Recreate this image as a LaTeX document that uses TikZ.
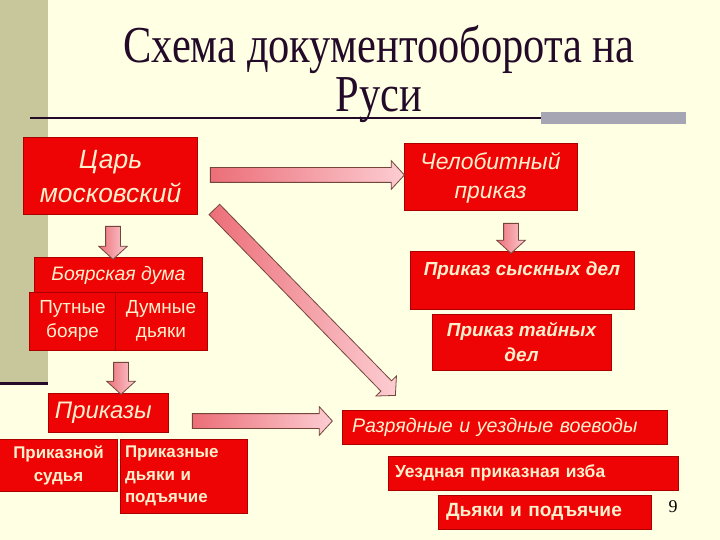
\documentclass[tikz,border=0pt]{standalone}
\usepackage{fontspec}
\setmainfont{Liberation Serif}
\setsansfont{Liberation Sans}
\newfontfamily\titlefont[FakeStretch=0.82]{Liberation Serif}
\usetikzlibrary{shapes.arrows,calc}

\definecolor{bgcream}{RGB}{255,255,228}
\definecolor{sidebar}{RGB}{200,199,155}
\definecolor{titleink}{RGB}{35,10,40}
\definecolor{rulegray}{RGB}{165,165,180}
\definecolor{boxred}{RGB}{238,4,4}
\definecolor{boxedge}{RGB}{170,0,0}
\definecolor{boxtext}{RGB}{255,240,205}
\definecolor{arrdark}{RGB}{236,110,120}
\definecolor{arrlight}{RGB}{252,205,210}
\definecolor{arredge}{RGB}{115,70,60}

\newcommand\fsz[1]{\fontsize{#1}{1.25\dimexpr #1pt\relax}\selectfont}

\tikzset{
  box/.style={draw=boxedge,fill=boxred,text=boxtext,line width=1bp,inner sep=0pt},
  blockarr/.style={single arrow,draw=arredge,line width=.8bp,left color=arrdark,
    right color=arrlight,inner xsep=0pt,inner ysep=7bp,
    single arrow head extend=7bp,single arrow tip angle=95}
}
% block arrow between two named points
\newcommand\bigarrow[3]{%
  \path let \p1=($(#2)-(#1)$) in
    node[blockarr,rotate={atan2(\y1,\x1)},minimum height={veclen(\x1,\y1)}]
      (#3) at ($(#1)!.5!(#2)$) {};}

\begin{document}
\begin{tikzpicture}[x=1bp,y=-1bp]
  \fill[bgcream] (0,0) rectangle (720,540);
  \useasboundingbox (0,0) rectangle (720,540);
  \fill[sidebar] (0,0) rectangle (48,383);
  \draw[titleink,line width=3bp] (0,383)--(48,383);
  \draw[titleink,line width=2bp] (30,118)--(541,118);
  \fill[rulegray] (541,112) rectangle (686,124);
  \node[titleink,align=center,font=\titlefont\fontsize{52}{50}\selectfont]
    (title) at (379,74) {Схема документооборота на\\Руси};

  % left column
  \node[box,minimum width=173bp,minimum height=77bp,align=center,
    font=\sffamily\itshape\fontsize{26.5}{34}\selectfont] (tsar) at (110.5,176.5) {Царь\\московский};
  \node[box,minimum width=167bp,minimum height=34bp,
    font=\sffamily\itshape\fsz{19.5}] (duma) at (118.5,275) {Боярская дума};
  \node[box,minimum width=85bp,minimum height=58bp,align=center,
    font=\sffamily\fontsize{19}{24}\selectfont] (boyare) at (72.5,321) {Путные\\бояре};
  \node[box,minimum width=92bp,minimum height=58bp,align=center,
    font=\sffamily\fontsize{19}{24}\selectfont] (dyaki) at (161,321) {Думные\\дьяки};
  \node[box,minimum height=39bp,text width=106bp,inner xsep=7bp,align=left,
    font=\sffamily\itshape\fsz{24}] (prikazy) at (108,412.5) {Приказы};
  \node[box,minimum width=117bp,minimum height=52bp,align=center,
    font=\sffamily\bfseries\fontsize{17}{23}\selectfont] (sudya) at (58.5,465) {Приказной\\судья};
  \node[box,minimum height=74bp,text width=117bp,inner xsep=5bp,align=left,
    font=\sffamily\bfseries\fontsize{17}{22.5}\selectfont] (podyachie) at (183.5,476)
    {Приказные\\дьяки и\\подъячие};

  % right column
  \node[box,minimum width=173bp,minimum height=67bp,align=center,
    font=\sffamily\itshape\fontsize{23}{29}\selectfont] (chel) at (490.5,177.5) {Челобитный\\приказ};
  \node[box,minimum width=224bp,text height=24bp,text depth=33bp,
    font=\sffamily\bfseries\itshape\fsz{19}] (sysk) at (522,280.5) {Приказ сыскных дел};
  \node[box,minimum width=179bp,minimum height=56bp,align=center,
    font=\sffamily\bfseries\itshape\fontsize{19}{25}\selectfont] (tayn) at (521.5,342)
    {Приказ тайных\\дел};
  \node[box,minimum height=34bp,text width=305bp,inner xsep=10bp,align=left,
    font=\sffamily\itshape\fsz{19.7}] (voevody) at (504.5,427) {Разрядные и уездные воеводы};
  \node[box,minimum height=34bp,text width=276bp,inner xsep=7bp,align=left,
    font=\sffamily\bfseries\fsz{17.5}] (izba) at (533,473) {Уездная приказная изба};
  \node[box,minimum height=34bp,text width=197bp,inner xsep=8bp,align=left,
    font=\sffamily\bfseries\fsz{19.2}] (dyakipod) at (544.5,512) {Дьяки и подъячие};
  \node[font=\fsz{18}] (pagenum) at (673,507) {9};

  % arrows
  \coordinate (a1s) at (207,175);  \coordinate (a1e) at (401,175);
  \coordinate (a2s) at (113,223);  \coordinate (a2e) at (113,256);
  \coordinate (a3s) at (511,220);  \coordinate (a3e) at (511,250);
  \coordinate (a4s) at (212,207);  \coordinate (a4e) at (393,393);
  \coordinate (a5s) at (121,359);  \coordinate (a5e) at (121,391);
  \coordinate (a6s) at (189,421);  \coordinate (a6e) at (329,421);
  \bigarrow{a1s}{a1e}{tsar-chel}
  \bigarrow{a2s}{a2e}{tsar-duma}
  \bigarrow{a3s}{a3e}{chel-sysk}
  \bigarrow{a4s}{a4e}{tsar-voevody}
  \bigarrow{a5s}{a5e}{duma-prikazy}
  \bigarrow{a6s}{a6e}{prikazy-voevody}
\end{tikzpicture}
\end{document}
